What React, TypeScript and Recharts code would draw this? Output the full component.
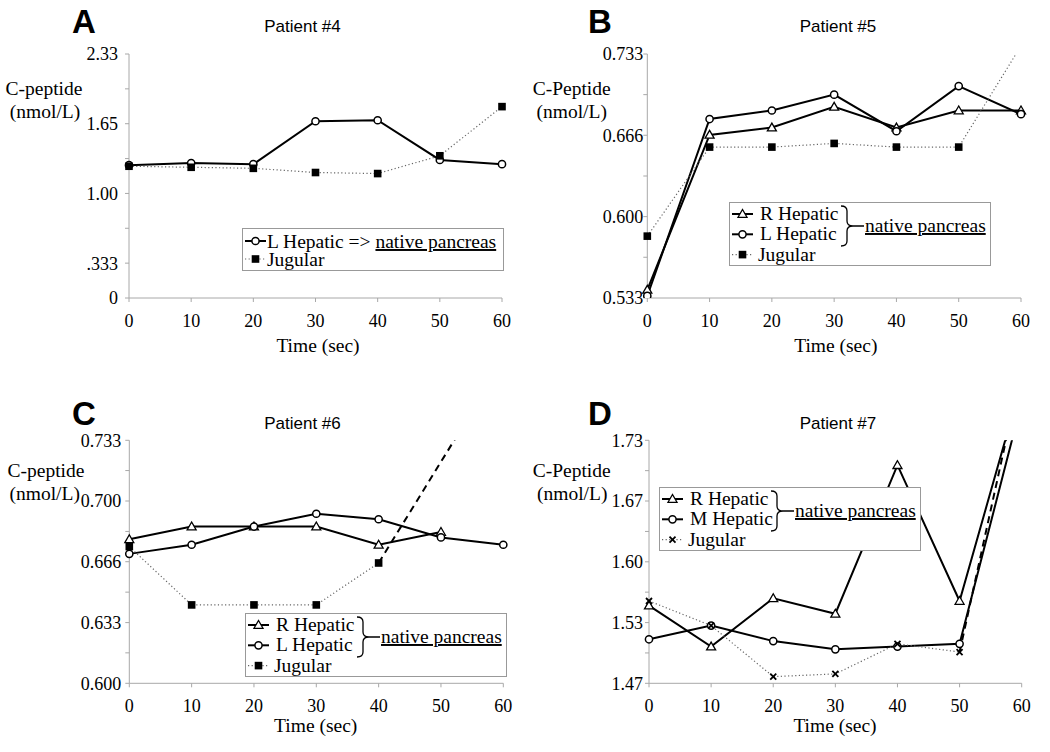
import React from "react";
import { LineChart, Line, XAxis, YAxis, Legend } from "recharts";

const SERIF = "'Liberation Serif', 'Times New Roman', serif";
const SANS = "'Liberation Sans', Arial, sans-serif";
const AXIS_GRAY = "#a8a8a8";

const time = [0, 10, 20, 30, 40, 50, 60];
const timeTicks = [0, 10, 20, 30, 40, 50, 60];

// Patient #4
const aLHepatic = [1.27, 1.29, 1.28, 1.69, 1.7, 1.32, 1.28];
const aJugular = [1.26, 1.25, 1.24, 1.2, 1.19, 1.36, 1.83];
const aYTicks = [0, 0.3333, 0.6667, 1, 1.3333, 1.6667, 2, 2.3333];
const aYLabels = ["0", ".333", "", "1.00", "", "1.65", "", "2.33"];

// Patient #5
const bRHepatic = [0.54, 0.667, 0.673, 0.69, 0.673, 0.687, 0.687];
const bLHepatic = [0.535, 0.68, 0.687, 0.7, 0.67, 0.707, 0.684];
const bJugular = [0.584, 0.657, 0.657, 0.66, 0.657, 0.657, 0.74];
const bYTicks = [0.5333, 0.5667, 0.6, 0.6333, 0.6667, 0.7, 0.7333];
const bYLabels = ["0.533", "", "0.600", "", "0.666", "", "0.733"];

// Patient #6
const cRHepatic = [0.679, 0.686, 0.686, 0.686, 0.676, 0.683, null];
const cLHepatic = [0.671, 0.676, 0.686, 0.693, 0.69, 0.68, 0.676];
const cJugular = [0.675, 0.643, 0.643, 0.643, 0.666, null, null];
const cJugularTail = [null, null, null, null, 0.666, null, 0.777];
const cYTicks = [0.6, 0.6167, 0.6333, 0.65, 0.6667, 0.6833, 0.7, 0.7167, 0.7333];
const cYLabels = ["0.600", "", "0.633", "", "0.666", "", "0.700", "", "0.733"];

// Patient #7
const dRHepatic = [1.552, 1.507, 1.56, 1.543, 1.706, 1.557, 1.797];
const dMHepatic = [1.515, 1.53, 1.513, 1.504, 1.507, 1.51, 1.775];
const dJugular = [1.557, 1.53, 1.474, 1.477, 1.51, 1.501, null];
const dJugularTail = [null, null, null, null, null, 1.501, 1.812];
const dYTicks = [1.4667, 1.5, 1.5333, 1.5667, 1.6, 1.6333, 1.6667, 1.7, 1.7333];
const dYLabels = ["1.47", "", "1.53", "", "1.60", "", "1.67", "", "1.73"];

type Shape = "circle" | "triangle" | "square" | "cross";
type Style = "solid" | "dotted" | "dashed";
type Series = { key: string; values: (number | null)[]; shape?: Shape; style: Style };

const Marker = ({ shape, x, y }: { shape: Shape; x: number; y: number }) => {
  if (shape === "circle")
    return <circle cx={x} cy={y} r={3.6} fill="#fff" stroke="#000" strokeWidth={1.5} />;
  if (shape === "triangle")
    return (
      <polygon
        points={`${x},${y - 4.5} ${x - 4.5},${y + 3.3} ${x + 4.5},${y + 3.3}`}
        fill="#fff"
        stroke="#000"
        strokeWidth={1.3}
      />
    );
  if (shape === "square") return <rect x={x - 3.8} y={y - 3.8} width={7.6} height={7.6} fill="#000" />;
  return (
    <g stroke="#000" strokeWidth={1.8}>
      <line x1={x - 3} y1={y - 3} x2={x + 3} y2={y + 3} />
      <line x1={x - 3} y1={y + 3} x2={x + 3} y2={y - 3} />
    </g>
  );
};

const dotFor = (shape: Shape, max: number) => (props: any) => {
  const { cx, cy, value, index } = props;
  if (value == null || value > max || cx == null || cy == null) return <g key={`d-${index}`} />;
  return (
    <g key={`d-${index}`}>
      <Marker shape={shape} x={cx} y={cy} />
    </g>
  );
};

const lineStyle = (style: Style) => {
  if (style === "dotted") return { stroke: "#666", strokeWidth: 1.2, strokeDasharray: "1.2 2.4" };
  if (style === "dashed") return { stroke: "#000", strokeWidth: 2, strokeDasharray: "7 5" };
  return { stroke: "#000", strokeWidth: 2 };
};

const LegendSymbol = ({ shape, dotted, y }: { shape: Shape; dotted: boolean; y: number }) => (
  <g>
    <line x1={3} x2={24} y1={y} y2={y} {...lineStyle(dotted ? "dotted" : "solid")} />
    <Marker shape={shape} x={13.5} y={y} />
  </g>
);

const SimpleLegend = () => (
  <svg width={262} height={43} style={{ display: "block" }}>
    <rect x={0.5} y={0.5} width={261} height={42} fill="#fff" stroke="#999" />
    <LegendSymbol shape="circle" dotted={false} y={13} />
    <LegendSymbol shape="square" dotted y={31} />
    <text x={25} y={20} fontFamily={SERIF} fontSize={19.5}>
      L Hepatic =&gt; <tspan style={{ textDecoration: "underline" }}>native pancreas</tspan>
    </text>
    <text x={25} y={37.5} fontFamily={SERIF} fontSize={19.5}>
      Jugular
    </text>
  </svg>
);

type Row = { label: string; shape: Shape; dotted: boolean };

const BracedLegend = ({ rows }: { rows: Row[] }) => (
  <svg width={262} height={64} style={{ display: "block" }}>
    <rect x={0.5} y={0.5} width={261} height={63} fill="#fff" stroke="#999" />
    {rows.map((r, i) => {
      const base = 18 + i * 20.3;
      return (
        <g key={r.label}>
          <LegendSymbol shape={r.shape} dotted={r.dotted} y={base - 6} />
          <text x={r.dotted ? 29 : 31} y={base} fontFamily={SERIF} fontSize={19.5}>
            {r.label}
          </text>
        </g>
      );
    })}
    <path
      d="M112 4 Q118 4 118 9 L118 19 Q118 24 124 24 Q118 24 118 29 L118 39 Q118 44 112 44 M124 24 L135 24"
      fill="none"
      stroke="#000"
      strokeWidth={1.3}
    />
    <text x={136} y={30} fontFamily={SERIF} fontSize={19.5} style={{ textDecoration: "underline" }}>
      native pancreas
    </text>
  </svg>
);

type PanelProps = {
  left: number;
  top: number;
  margin: { top: number; right: number; bottom: number; left: number };
  yWidth: number;
  tickGap: number;
  yTicks: number[];
  yLabels: string[];
  series: Series[];
  legend: React.ReactNode;
  legendPos: { left: number; top: number; width: number; height: number };
};

const Panel = ({ left, top, margin, yWidth, tickGap, yTicks, yLabels, series, legend, legendPos }: PanelProps) => {
  const data = time.map((t, i) => {
    const row: Record<string, number | null> = { t };
    series.forEach((s) => (row[s.key] = s.values[i]));
    return row;
  });
  const yMin = yTicks[0];
  const yMax = yTicks[yTicks.length - 1];
  const tickStyle = { fill: "#000", fontFamily: SERIF, fontSize: 18 };
  return (
    <div style={{ position: "absolute", left, top }}>
      <LineChart width={525} height={376} data={data} margin={margin}>
        <XAxis
          type="number"
          dataKey="t"
          domain={[0, 60]}
          ticks={timeTicks}
          interval={0}
          height={40}
          stroke={AXIS_GRAY}
          tickSize={4}
          tickMargin={12}
          tick={tickStyle}
        />
        <YAxis
          type="number"
          domain={[yMin, yMax]}
          allowDataOverflow
          ticks={yTicks}
          interval={0}
          width={yWidth}
          stroke={AXIS_GRAY}
          tickSize={4}
          tickMargin={tickGap}
          tick={tickStyle}
          tickFormatter={(v: number) => yLabels[yTicks.findIndex((t) => Math.abs(t - v) < 1e-6)] ?? ""}
        />
        {series.map((s) => (
          <Line
            key={s.key}
            dataKey={s.key}
            type="linear"
            isAnimationActive={false}
            connectNulls={s.style === "dashed"}
            dot={s.shape ? dotFor(s.shape, yMax) : false}
            activeDot={false}
            {...lineStyle(s.style)}
          />
        ))}
        <Legend
          layout="horizontal"
          verticalAlign="middle"
          align="center"
          wrapperStyle={{ ...legendPos }}
          content={() => legend}
        />
      </LineChart>
    </div>
  );
};

const Txt = ({ x, y, size, font, bold, children, anchor = "middle" }: any) => (
  <text x={x} y={y} fontSize={size} fontFamily={font} fontWeight={bold ? "bold" : "normal"} textAnchor={anchor}>
    {children}
  </text>
);

export default function App() {
  return (
    <div style={{ position: "absolute", left: 0, top: 0, width: 1050, height: 752, background: "#fff" }}>
      <Panel
        left={0}
        top={0}
        margin={{ top: 54, right: 23, bottom: 38, left: 0 }}
        yWidth={129}
        tickGap={7}
        yTicks={aYTicks}
        yLabels={aYLabels}
        series={[
          { key: "lh", values: aLHepatic, shape: "circle", style: "solid" },
          { key: "jug", values: aJugular, shape: "square", style: "dotted" },
        ]}
        legend={<SimpleLegend />}
        legendPos={{ left: 241.5, top: 227.5, width: 262, height: 43 }}
      />
      <Panel
        left={525}
        top={0}
        margin={{ top: 54, right: 29, bottom: 38, left: 0 }}
        yWidth={122.3}
        tickGap={0}
        yTicks={bYTicks}
        yLabels={bYLabels}
        series={[
          { key: "rh", values: bRHepatic, shape: "triangle", style: "solid" },
          { key: "lh", values: bLHepatic, shape: "circle", style: "solid" },
          { key: "jug", values: bJugular, shape: "square", style: "dotted" },
        ]}
        legend={
          <BracedLegend
            rows={[
              { label: "R Hepatic", shape: "triangle", dotted: false },
              { label: "L Hepatic", shape: "circle", dotted: false },
              { label: "Jugular", shape: "square", dotted: true },
            ]}
          />
        }
        legendPos={{ left: 204.3, top: 201.5, width: 262, height: 64 }}
      />
      <Panel
        left={0}
        top={376}
        margin={{ top: 64.3, right: 21.7, bottom: 28.7, left: 0 }}
        yWidth={129.3}
        tickGap={4}
        yTicks={cYTicks}
        yLabels={cYLabels}
        series={[
          { key: "rh", values: cRHepatic, shape: "triangle", style: "solid" },
          { key: "lh", values: cLHepatic, shape: "circle", style: "solid" },
          { key: "jugTail", values: cJugularTail, style: "dashed" },
          { key: "jug", values: cJugular, shape: "square", style: "dotted" },
        ]}
        legend={
          <BracedLegend
            rows={[
              { label: "R Hepatic", shape: "triangle", dotted: false },
              { label: "L Hepatic", shape: "circle", dotted: false },
              { label: "Jugular", shape: "square", dotted: true },
            ]}
          />
        }
        legendPos={{ left: 245.3, top: 237, width: 262, height: 64 }}
      />
      <Panel
        left={525}
        top={376}
        margin={{ top: 64.3, right: 28.3, bottom: 28.7, left: 0 }}
        yWidth={124}
        tickGap={2}
        yTicks={dYTicks}
        yLabels={dYLabels}
        series={[
          { key: "rh", values: dRHepatic, shape: "triangle", style: "solid" },
          { key: "mh", values: dMHepatic, shape: "circle", style: "solid" },
          { key: "jugTail", values: dJugularTail, style: "dashed" },
          { key: "jug", values: dJugular, shape: "cross", style: "dotted" },
        ]}
        legend={
          <BracedLegend
            rows={[
              { label: "R Hepatic", shape: "triangle", dotted: false },
              { label: "M Hepatic", shape: "circle", dotted: false },
              { label: "Jugular", shape: "cross", dotted: true },
            ]}
          />
        }
        legendPos={{ left: 134, top: 111.3, width: 262, height: 64 }}
      />
      <svg
        width={1050}
        height={752}
        style={{ position: "absolute", left: 0, top: 0, pointerEvents: "none" }}
      >
        <Txt x={72} y={33} size={33} font={SANS} bold anchor="start">A</Txt>
        <Txt x={588} y={33} size={33} font={SANS} bold anchor="start">B</Txt>
        <Txt x={72} y={425} size={33} font={SANS} bold anchor="start">C</Txt>
        <Txt x={588} y={425} size={33} font={SANS} bold anchor="start">D</Txt>

        <Txt x={302.5} y={31.5} size={17} font={SANS}>Patient #4</Txt>
        <Txt x={838} y={31.5} size={17} font={SANS}>Patient #5</Txt>
        <Txt x={302.5} y={429.3} size={17} font={SANS}>Patient #6</Txt>
        <Txt x={838} y={429.3} size={17} font={SANS}>Patient #7</Txt>

        <Txt x={44} y={94.5} size={19.5} font={SERIF}>C-peptide</Txt>
        <Txt x={45} y={118.3} size={19.5} font={SERIF}>(nmol/L)</Txt>
        <Txt x={571.7} y={95} size={19.5} font={SERIF}>C-Peptide</Txt>
        <Txt x={571.7} y={118.3} size={19.5} font={SERIF}>(nmol/L)</Txt>
        <Txt x={46} y={477} size={19.5} font={SERIF}>C-peptide</Txt>
        <Txt x={44.7} y={500.3} size={19.5} font={SERIF}>(nmol/L)</Txt>
        <Txt x={571.7} y={477} size={19.5} font={SERIF}>C-Peptide</Txt>
        <Txt x={572.2} y={500.3} size={19.5} font={SERIF}>(nmol/L)</Txt>

        <Txt x={318} y={351.7} size={19.5} font={SERIF}>Time (sec)</Txt>
        <Txt x={835.8} y={351.7} size={19.5} font={SERIF}>Time (sec)</Txt>
        <Txt x={315.7} y={732} size={19.5} font={SERIF}>Time (sec)</Txt>
        <Txt x={835} y={732} size={19.5} font={SERIF}>Time (sec)</Txt>
      </svg>
    </div>
  );
}
